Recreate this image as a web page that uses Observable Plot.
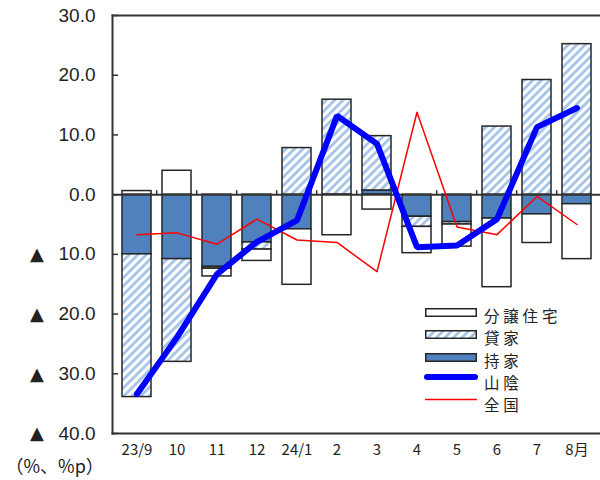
<!DOCTYPE html>
<html><head><meta charset="utf-8">
<script src="https://cdn.jsdelivr.net/npm/d3@7"></script>
<script src="https://cdn.jsdelivr.net/npm/@observablehq/plot@0.6"></script>
<style>
body{margin:0;background:#fff}
#wrap{position:relative;width:600px;height:480px;background:#fff}
#defs{position:absolute;left:0;top:0;width:0;height:0}
.lrow{position:absolute;left:420px;width:175px;height:22px;line-height:22px;font-family:'Noto Sans CJK JP',sans-serif;font-size:15.5px;letter-spacing:3.8px;color:#222;white-space:nowrap}
.lrow .sw{position:absolute;left:5px;width:52px}
.lrow .tx{position:absolute;left:64px;top:0}
</style>
</head><body>
<div id="wrap">
<svg id="defs" width="0" height="0" xmlns="http://www.w3.org/2000/svg">
<defs>
<pattern id="hatch" patternUnits="userSpaceOnUse" width="6" height="6" patternTransform="rotate(45)">
<rect width="6" height="6" fill="#ffffff"/>
<line x1="1.5" y1="0" x2="1.5" y2="6" stroke="#9ebfe6" stroke-width="2.6"/>
</pattern>
</defs>
</svg>
</div>
<script>
// ---- data ----
const months = ["23/9","10","11","12","24/1","2","3","4","5","6","7","8月"];
const own    = [-10.0,-10.8,-12.1,-8.0,-5.8, 0.0, 0.7,-3.7,-4.6,-4.0,-3.3,-1.6];   // 持家
const rent   = [-23.9,-17.2,-0.3,-1.2, 7.8,15.9, 9.1,-1.7,-0.4,11.4,19.2,25.2];    // 貸家
const sale   = [ 0.6, 4.0,-1.3,-1.9,-9.3,-6.8,-2.5,-4.4,-3.7,-11.5,-4.8,-9.2];    // 分譲住宅
const sanin  = [-33.4,-23.9,-13.3,-7.9,-4.3,13.2, 8.5,-8.8,-8.5,-4.1,11.3,14.5];  // 山陰
const zenkoku= [-6.7,-6.4,-8.3,-4.1,-7.6,-8.0,-12.9,13.8,-5.4,-6.7,-0.3,-5.0];    // 全国
const yTicks = [30,20,10,0,-10,-20,-30,-40];
const barTypes = ["持家","貸家","分譲住宅"];
const legendItems = ["分譲住宅","貸家","持家","山陰","全国"];

const fills = {"持家":"#4f81bd","貸家":"url(#hatch)","分譲住宅":"#ffffff"};
const series = {"持家":own,"貸家":rent,"分譲住宅":sale};
const bars = months.flatMap((m,i)=>barTypes.map(t=>({month:m,type:t,value:series[t][i]})));
const lineSan = months.map((m,i)=>({month:m,value:sanin[i]}));
const lineAll = months.map((m,i)=>({month:m,value:zenkoku[i]}));

const W=600,H=480,mL=112,mR=0,mT=15,mB=47;
const fw=W-mL-mR, fh=H-mT-mB;
const step=fw/months.length;
const zeroY=fh*30/70;
const fmt=d=> Math.abs(d).toFixed(1);

const chart = Plot.plot({
  width:W,height:H,marginLeft:mL,marginRight:mR,marginTop:mT,marginBottom:mB,
  style:{fontFamily:"'Liberation Sans','Noto Sans CJK JP',sans-serif",color:"#222",background:"#fff",overflow:"visible"},
  x:{domain:months,paddingInner:0.28,paddingOuter:0.14,label:null},
  y:{domain:[-40,30],label:null},
  color:{type:"identity"},
  marks:[
    Plot.barY(bars,{x:"month",y:"value",z:"type",order:barTypes,fill:d=>fills[d.type],stroke:"#262626",strokeWidth:1.5}),
    Plot.ruleY([0],{stroke:"#333",strokeWidth:2}),
    Plot.tickY(yTicks,{y:d=>d,insetRight:fw-6,stroke:"#333",strokeWidth:1.5}),
    Plot.tickX(months.slice(1),{x:d=>d,dx:-step/2,insetTop:zeroY-4,insetBottom:fh-zeroY,stroke:"#333",strokeWidth:1.5}),
    Plot.lineY(lineAll,{x:"month",y:"value",stroke:"#ff0000",strokeWidth:1.5}),
    Plot.lineY(lineSan,{x:"month",y:"value",stroke:"#0000ff",strokeWidth:6,strokeLinecap:"round",strokeLinejoin:"miter"}),
    Plot.frame({anchor:"top",stroke:"#333",strokeWidth:2}),
    Plot.frame({anchor:"left",stroke:"#333",strokeWidth:2}),
    Plot.frame({anchor:"bottom",stroke:"#333",strokeWidth:2}),
    Plot.axisY({ticks:yTicks,tickFormat:fmt,tickSize:0,tickPadding:17,fontSize:19,label:null}),
    Plot.text(yTicks.filter(d=>d<0),{y:d=>d,text:()=>"▲",frameAnchor:"left",dx:-75.5,textAnchor:"middle",fontSize:18,fontFamily:"'DejaVu Sans',sans-serif",fill:"#222"}),
    Plot.axisX({tickSize:0,tickPadding:11,fontSize:15,fontFamily:"'Noto Sans CJK JP',sans-serif",label:null}),
    Plot.text(["（%、%p）"],{text:d=>d,frameAnchor:"bottom-left",dx:-107,dy:34,textAnchor:"start",lineAnchor:"middle",fontSize:18,fontFamily:"'Noto Sans CJK JP',sans-serif"})
  ]
});
const wrap=document.getElementById("wrap");
wrap.insertBefore(chart, wrap.firstChild);
chart.style.position="absolute"; chart.style.left="0"; chart.style.top="0";

// legend (HTML rows)
legendItems.forEach((name,i)=>{
  const top=303.7+22.4*i;
  const row=d3.select("#wrap").append("div").attr("class","lrow").style("top",top+"px");
  const sw=row.append("div").attr("class","sw");
  if(barTypes.includes(name)){
    sw.style("top","4.3px").style("height","9px");
    const s=sw.append("svg").attr("width",52).attr("height",9).style("display","block").style("overflow","visible");
    s.append("rect").attr("x",0.75).attr("y",0.75).attr("width",50.5).attr("height",7.5)
      .attr("fill",fills[name]).attr("stroke","#262626").attr("stroke-width",1.5);
  } else {
    const thick = name==="山陰";
    sw.style("top","0px").style("height","12px");
    const s=sw.append("svg").attr("width",52).attr("height",12).style("display","block").style("overflow","visible");
    s.append("line").attr("x1",thick?2:0).attr("x2",thick?50:52).attr("y1",thick?6:6.5).attr("y2",thick?6:6.5)
      .attr("stroke",thick?"#0000ff":"#ff0000").attr("stroke-width",thick?6:1.5).attr("stroke-linecap",thick?"round":"butt");
  }
  row.append("span").attr("class","tx").text(name);
});
</script>
</body></html>
